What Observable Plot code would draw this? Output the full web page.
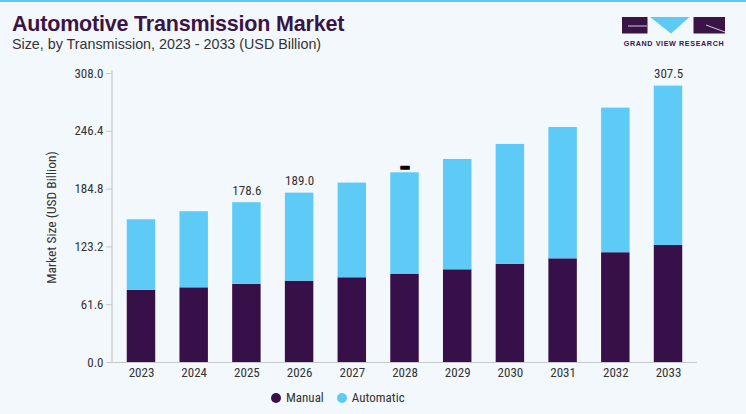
<!DOCTYPE html>
<html>
<head>
<meta charset="utf-8">
<script src="https://cdn.jsdelivr.net/npm/d3@7"></script>
<script src="https://cdn.jsdelivr.net/npm/@observablehq/plot@0.6"></script>
<style>
  html, body { margin: 0; padding: 0; background: #f3f8fc; }
  body { width: 746px; height: 414px; position: relative; overflow: hidden;
         font-family: "Liberation Sans", Arial, sans-serif; }
  #stripe { position: absolute; left: 0; top: 0; width: 746px; height: 2px; background: #5ccaf3; }
  #title { position: absolute; left: 12px; top: 14px; font-size: 21.5px; font-weight: 900; line-height: 1;
           color: #3a1446; letter-spacing: -0.2px; font-family: "Liberation Sans", Arial, sans-serif; }
  #subtitle { position: absolute; left: 12px; top: 37px; font-size: 14.3px; line-height: 1; color: #333; }
  #logo { position: absolute; left: 618px; top: 14px; }
  #chart { position: absolute; left: 0; top: 60px; }
  #legend { position: absolute; top: 390px; left: 271px; white-space: nowrap;
            font-size: 13px; color: #333; font-family: "Liberation Sans Narrow", "Roboto Condensed", Arial, sans-serif; }
  #legend span.item { display: inline-block; margin-right: 13px; }
  #legend span.dot { display: inline-block; width: 10px; height: 10px; border-radius: 50%;
                     vertical-align: -1px; margin-right: 5px; }
</style>
</head>
<body>
<div id="stripe"></div>
<div id="title">Automotive Transmission Market</div>
<div id="subtitle">Size, by Transmission, 2023 - 2033 (USD Billion)</div>
<div id="logo">
  <svg width="112" height="34" viewBox="0 0 112 34">
    <rect x="4" y="3" width="25.5" height="16.5" fill="#3a1446"/>
    <line x1="10" y1="12" x2="29" y2="12" stroke="#f3f8fc" stroke-width="0.8"/>
    <polygon points="32,3 71.5,3 53,19.5" fill="#5ccaf3"/>
    <rect x="75.5" y="3" width="31.5" height="16.5" fill="#3a1446"/>
    <line x1="88" y1="11" x2="107" y2="18" stroke="#f3f8fc" stroke-width="0.8"/>
    <text x="56" y="31.5" text-anchor="middle" font-size="7.2" font-weight="bold" fill="#3a1446"
          letter-spacing="0.6" font-family="Liberation Sans, Arial, sans-serif">GRAND VIEW RESEARCH</text>
  </svg>
</div>
<div id="chart"></div>
<div id="legend"></div>
<script>
const years = ["2023","2024","2025","2026","2027","2028","2029","2030","2031","2032","2033"];
const manual = [76.8, 79.6, 83.2, 86.7, 90.3, 94.2, 98.8, 104.5, 110.5, 117.0, 124.7];
const automatic = [75.3, 81.1, 87.1, 93.8, 100.9, 108.0, 117.6, 127.9, 140.0, 154.1, 169.9];
const totalLabels = ["", "", "178.6", "189.0", "", "", "", "", "", "", "307.5"];
const markerLabels = ["", "", "", "", "", "▬", "", "", "", "", ""];
const yTicks = [0, 61.6, 123.2, 184.8, 246.4, 308.0];
const seriesNames = ["Manual", "Automatic"];
const seriesColors = ["#37104a", "#5ecbf7"];

const rows = [];
years.forEach((y, i) => {
  rows.push({year: y, series: "Manual", value: manual[i]});
  rows.push({year: y, series: "Automatic", value: automatic[i]});
});
const totals = years.map((y, i) => ({year: y, total: manual[i] + automatic[i], label: totalLabels[i], marker: markerLabels[i]}));

const font = '"Liberation Sans Narrow", "Roboto Condensed", Arial, sans-serif';

const chart = Plot.plot({
  width: 746,
  height: 325,
  marginTop: 13,
  marginBottom: 23,
  marginLeft: 112,
  marginRight: 49,
  style: {background: "transparent", fontFamily: font, fontSize: "13px", color: "#333", overflow: "visible"},
  x: {domain: years, paddingInner: 0.46, paddingOuter: 0.28, round: false, label: null},
  y: {domain: [0, 308], label: null},
  color: {domain: seriesNames, range: seriesColors},
  marks: [
    Plot.axisY({ticks: yTicks, tickFormat: d => d.toFixed(1), tickSize: 6, tickPadding: 3, stroke: "#c8c8c8", label: null, fontSize: 13}),
    Plot.barY(rows, {x: "year", y: "value", fill: "series", order: seriesNames}),
    Plot.ruleY([0], {stroke: "#c8c8c8", strokeWidth: 1.2}),
    Plot.axisX({tickSize: 0, tickPadding: 5, label: null, fontSize: 13}),
    Plot.text(totals, {x: "year", y: "total", text: "label", dy: -12, fill: "#333", fontSize: 13}),
    Plot.text(totals, {x: "year", y: "total", text: "marker", dy: -6, fill: "#000", stroke: "#000", strokeWidth: 1.6, strokeLinejoin: "round", fontSize: 8})
  ]
});
document.getElementById("chart").appendChild(chart);

// vertical y-axis line and y label
const svg = d3.select(chart);
const ys = chart.scale("y");
svg.append("line")
  .attr("x1", 112).attr("x2", 112)
  .attr("y1", ys.apply(308) - 3).attr("y2", ys.apply(0))
  .attr("stroke", "#c8c8c8").attr("stroke-width", 1.2);
svg.append("text")
  .attr("transform", `translate(52,${(ys.apply(0) + ys.apply(308)) / 2}) rotate(-90)`)
  .attr("text-anchor", "middle").attr("dominant-baseline", "middle")
  .attr("font-size", 13.5).attr("fill", "#333").attr("font-family", font)
  .text("Market Size (USD Billion)");

const legend = document.getElementById("legend");
seriesNames.forEach((n, i) => {
  const item = document.createElement("span");
  item.className = "item";
  item.innerHTML = `<span class="dot" style="background:${seriesColors[i]}"></span>${n}`;
  legend.appendChild(item);
});
</script>
</body>
</html>
